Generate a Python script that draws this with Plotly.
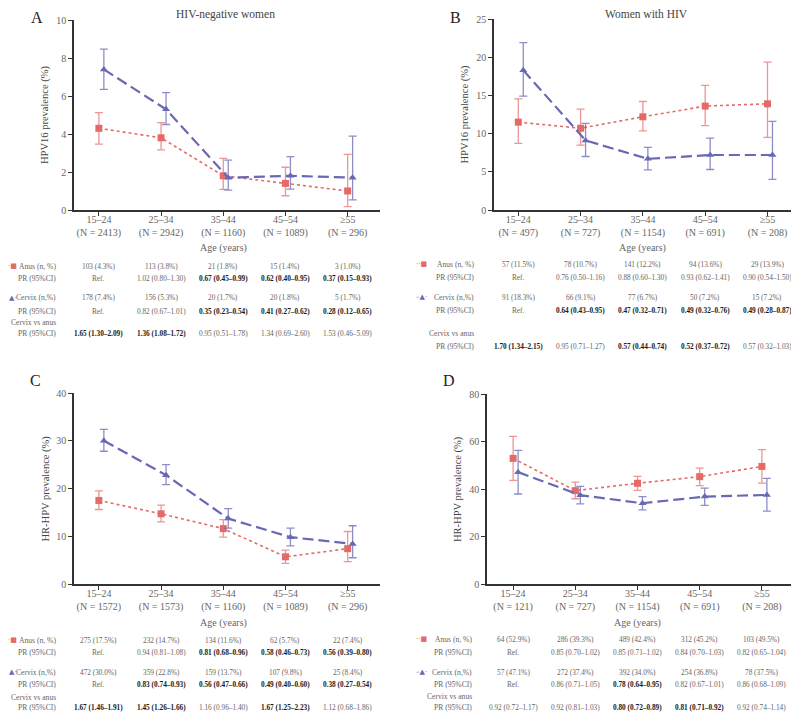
import numpy as np
import plotly.graph_objects as go

# the page body keeps its default 8px margin, so the figure is drawn 8px smaller
# and every layout position below is given in window pixels
OFF = 8
W, H = 799 - OFF, 712 - OFF

age_groups = ["15–24", "25–34", "35–44", "45–54", "≥55"]

# panel A: HPV16, HIV-negative women
a_n = [2413, 2942, 1160, 1089, 296]
a_anus = [4.3, 3.8, 1.8, 1.4, 1.0]
a_anus_hi = [5.12, 4.6, 2.72, 2.25, 2.93]
a_anus_lo = [3.47, 3.16, 1.09, 0.75, 0.18]
a_cerv = [7.4, 5.3, 1.7, 1.8, 1.7]
a_cerv_hi = [8.47, 6.18, 2.63, 2.81, 3.89]
a_cerv_lo = [6.35, 4.5, 1.05, 1.1, 0.53]
a_anus_txt = ["103 (4.3%)", "113 (3.8%)", "21 (1.8%)", "15 (1.4%)", "3 (1.0%)"]
a_anus_pr = ["Ref.", "1.02 (0.80–1.30)", "0.67 (0.45–0.99)", "0.62 (0.40–0.95)", "0.37 (0.15–0.93)"]
a_anus_pr_bold = [2, 3, 4]
a_cerv_txt = ["178 (7.4%)", "156 (5.3%)", "20 (1.7%)", "20 (1.8%)", "5 (1.7%)"]
a_cerv_pr = ["Ref.", "0.82 (0.67–1.01)", "0.35 (0.23–0.54)", "0.41 (0.27–0.62)", "0.28 (0.12–0.65)"]
a_cerv_pr_bold = [2, 3, 4]
a_cva = ["1.65 (1.30–2.09)", "1.36 (1.08–1.72)", "0.95 (0.51–1.78)", "1.34 (0.69–2.60)", "1.53 (0.46–5.09)"]
a_cva_bold = [0, 1]

# panel B: HPV16, women with HIV
b_n = [497, 727, 1154, 691, 208]
b_anus = [11.5, 10.7, 12.2, 13.6, 13.9]
b_anus_hi = [14.55, 13.2, 14.2, 16.3, 19.35]
b_anus_lo = [8.73, 8.5, 10.35, 11.05, 9.5]
b_cerv = [18.3, 9.1, 6.7, 7.2, 7.2]
b_cerv_hi = [21.9, 11.35, 8.2, 9.4, 11.6]
b_cerv_lo = [14.9, 7.0, 5.25, 5.3, 4.0]
b_anus_txt = ["57 (11.5%)", "78 (10.7%)", "141 (12.2%)", "94 (13.6%)", "29 (13.9%)"]
b_anus_pr = ["Ref.", "0.76 (0.50–1.16)", "0.88 (0.60–1.30)", "0.93 (0.62–1.41)", "0.90 (0.54–1.50)"]
b_anus_pr_bold = []
b_cerv_txt = ["91 (18.3%)", "66 (9.1%)", "77 (6.7%)", "50 (7.2%)", "15 (7.2%)"]
b_cerv_pr = ["Ref.", "0.64 (0.43–0.95)", "0.47 (0.32–0.71)", "0.49 (0.32–0.76)", "0.49 (0.28–0.87)"]
b_cerv_pr_bold = [1, 2, 3, 4]
b_cva = ["1.70 (1.34–2.15)", "0.95 (0.71–1.27)", "0.57 (0.44–0.74)", "0.52 (0.37–0.72)", "0.57 (0.32–1.03)"]
b_cva_bold = [0, 2, 3]

# panel C: HR-HPV, HIV-negative women
c_n = [1572, 1573, 1160, 1089, 296]
c_anus = [17.5, 14.7, 11.6, 5.7, 7.4]
c_anus_hi = [19.5, 16.5, 13.5, 7.1, 11.0]
c_anus_lo = [15.6, 13.0, 9.8, 4.3, 4.7]
c_cerv = [30.0, 22.8, 13.7, 9.8, 8.4]
c_cerv_hi = [32.4, 25.0, 15.8, 11.7, 12.2]
c_cerv_lo = [27.8, 20.8, 11.7, 8.0, 5.5]
c_anus_txt = ["275 (17.5%)", "232 (14.7%)", "134 (11.6%)", "62 (5.7%)", "22 (7.4%)"]
c_anus_pr = ["Ref.", "0.94 (0.81–1.08)", "0.81 (0.68–0.96)", "0.58 (0.46–0.73)", "0.56 (0.39–0.80)"]
c_anus_pr_bold = [2, 3, 4]
c_cerv_txt = ["472 (30.0%)", "359 (22.8%)", "159 (13.7%)", "107 (9.8%)", "25 (8.4%)"]
c_cerv_pr = ["Ref.", "0.83 (0.74–0.93)", "0.56 (0.47–0.66)", "0.49 (0.40–0.60)", "0.38 (0.27–0.54)"]
c_cerv_pr_bold = [1, 2, 3, 4]
c_cva = ["1.67 (1.46–1.91)", "1.45 (1.26–1.66)", "1.16 (0.96–1.40)", "1.67 (1.25–2.23)", "1.12 (0.68–1.86)"]
c_cva_bold = [0, 1, 3]

# panel D: HR-HPV, women with HIV
d_n = [121, 727, 1154, 691, 208]
d_anus = [52.9, 39.3, 42.4, 45.2, 49.5]
d_anus_hi = [62.2, 42.9, 45.3, 48.8, 56.6]
d_anus_lo = [43.6, 35.9, 39.4, 41.4, 42.5]
d_cerv = [47.1, 37.4, 34.0, 36.8, 37.5]
d_cerv_hi = [56.3, 41.1, 36.8, 40.4, 44.5]
d_cerv_lo = [37.9, 33.7, 31.2, 33.1, 30.7]
d_anus_txt = ["64 (52.9%)", "286 (39.3%)", "489 (42.4%)", "312 (45.2%)", "103 (49.5%)"]
d_anus_pr = ["Ref.", "0.85 (0.70–1.02)", "0.85 (0.71–1.02)", "0.84 (0.70–1.03)", "0.82 (0.65–1.04)"]
d_anus_pr_bold = []
d_cerv_txt = ["57 (47.1%)", "272 (37.4%)", "392 (34.0%)", "254 (36.8%)", "78 (37.5%)"]
d_cerv_pr = ["Ref.", "0.86 (0.71–1.05)", "0.78 (0.64–0.95)", "0.82 (0.67–1.01)", "0.86 (0.68–1.09)"]
d_cerv_pr_bold = [2]
d_cva = ["0.92 (0.72–1.17)", "0.92 (0.81–1.03)", "0.80 (0.72–0.89)", "0.81 (0.71–0.92)", "0.92 (0.74–1.14)"]
d_cva_bold = [2, 3]

RED = "#e46a68"
RED_EB = "rgba(228,106,104,0.7)"
BLUE = "#6868b4"
BLUE_EB = "rgba(104,104,180,0.75)"
TXT = "#666666"
DARK = "#1a1a1a"
FONT = "Liberation Serif"
TABLE_SIZE = 7.3


def px_x(v):
    return (v - OFF) / W


def px_y(v):
    return 1 - (v - OFF) / H


def note(text, x, y, xref="paper", xanchor="center", size=TABLE_SIZE, color=TXT, family=FONT, angle=0):
    return dict(text=text, x=x, y=y, xref=xref, yref="paper", xanchor=xanchor, yanchor="middle",
                showarrow=False, textangle=angle, font=dict(family=family, size=size, color=color))


panels = [
    dict(letter="A", title="HIV-negative women", ytitle="HPV16 prevalence (%)",
         n=a_n, anus=a_anus, anus_hi=a_anus_hi, anus_lo=a_anus_lo,
         cerv=a_cerv, cerv_hi=a_cerv_hi, cerv_lo=a_cerv_lo,
         rows=[(a_anus_txt, []), (a_anus_pr, a_anus_pr_bold), (a_cerv_txt, []),
               (a_cerv_pr, a_cerv_pr_bold), (a_cva, a_cva_bold)],
         xdom=(74, 380), ydom=(20, 210), yrange=(0, 10), dy=2, xr=(-0.40, 4.52),
         lab_x=58, row_y=[266, 278, 298, 311, 322, 333], age_y=248,
         letter_xy=(37, 17), title_xy=(226, 14), ytitle_x=45),
    dict(letter="B", title="Women with HIV", ytitle="HPV16 prevalence (%)",
         n=b_n, anus=b_anus, anus_hi=b_anus_hi, anus_lo=b_anus_lo,
         cerv=b_cerv, cerv_hi=b_cerv_hi, cerv_lo=b_cerv_lo,
         rows=[(b_anus_txt, []), (b_anus_pr, b_anus_pr_bold), (b_cerv_txt, []),
               (b_cerv_pr, b_cerv_pr_bold), (b_cva, b_cva_bold)],
         xdom=(494, 798), ydom=(19, 210), yrange=(0, 25), dy=5, xr=(-0.39, 4.49),
         lab_x=476, row_y=[264, 277, 297, 310, 333, 346], age_y=248,
         letter_xy=(455, 17), title_xy=(646, 14), ytitle_x=465),
    dict(letter="C", title="", ytitle="HR-HPV prevalence (%)",
         n=c_n, anus=c_anus, anus_hi=c_anus_hi, anus_lo=c_anus_lo,
         cerv=c_cerv, cerv_hi=c_cerv_hi, cerv_lo=c_cerv_lo,
         rows=[(c_anus_txt, []), (c_anus_pr, c_anus_pr_bold), (c_cerv_txt, []),
               (c_cerv_pr, c_cerv_pr_bold), (c_cva, c_cva_bold)],
         xdom=(74, 380), ydom=(393, 584), yrange=(0, 40), dy=10, xr=(-0.40, 4.52),
         lab_x=58, row_y=[640, 652, 672, 684, 697, 707], age_y=623,
         letter_xy=(35, 380), title_xy=None, ytitle_x=45),
    dict(letter="D", title="", ytitle="HR-HPV prevalence (%)",
         n=d_n, anus=d_anus, anus_hi=d_anus_hi, anus_lo=d_anus_lo,
         cerv=d_cerv, cerv_hi=d_cerv_hi, cerv_lo=d_cerv_lo,
         rows=[(d_anus_txt, []), (d_anus_pr, d_anus_pr_bold), (d_cerv_txt, []),
               (d_cerv_pr, d_cerv_pr_bold), (d_cva, d_cva_bold)],
         xdom=(487, 793), ydom=(394, 584), yrange=(0, 80), dy=20, xr=(-0.42, 4.50),
         lab_x=474, row_y=[639, 652, 672, 684, 696, 707], age_y=623,
         letter_xy=(449, 380), title_xy=None, ytitle_x=458),
]

fig = go.Figure()
annotations = []
layout = {}
pos = np.arange(len(age_groups))

for k, p in enumerate(panels):
    sfx = "" if k == 0 else str(k + 1)
    xa, ya = "x" + sfx, "y" + sfx

    anus = np.array(p["anus"])
    cerv = np.array(p["cerv"])
    fig.add_trace(go.Scatter(
        x=pos, y=anus, xaxis=xa, yaxis=ya, mode="lines+markers", showlegend=False,
        line=dict(color=RED, width=1.6, dash="dot"),
        marker=dict(symbol="square", size=7, color=RED),
        error_y=dict(type="data", symmetric=False,
                     array=np.array(p["anus_hi"]) - anus,
                     arrayminus=anus - np.array(p["anus_lo"]),
                     color=RED_EB, thickness=1.3, width=4)))
    fig.add_trace(go.Scatter(
        x=pos + 0.08, y=cerv, xaxis=xa, yaxis=ya, mode="lines+markers", showlegend=False,
        line=dict(color=BLUE, width=2.2, dash="11px,5px"),
        marker=dict(symbol="triangle-up", size=7, color=BLUE),
        error_y=dict(type="data", symmetric=False,
                     array=np.array(p["cerv_hi"]) - cerv,
                     arrayminus=cerv - np.array(p["cerv_lo"]),
                     color=BLUE_EB, thickness=1.3, width=4)))

    x0, x1 = p["xdom"]
    y0, y1 = p["ydom"]
    layout["xaxis" + sfx] = dict(
        domain=[px_x(x0), px_x(x1)], range=list(p["xr"]), anchor=ya, automargin=False,
        tickvals=list(pos),
        ticktext=[f"{g}<br>(N = {n})" for g, n in zip(age_groups, p["n"])],
        showline=True, linecolor="#333333", linewidth=1.5,
        ticks="outside", ticklen=4, tickcolor="#333333", tickwidth=1,
        ticklabelstandoff=-5,
        tickfont=dict(family=FONT, size=10, color=TXT),
        showgrid=False, zeroline=False, fixedrange=True)
    layout["yaxis" + sfx] = dict(
        domain=[px_y(y1), px_y(y0)], range=list(p["yrange"]), anchor=xa, automargin=False,
        dtick=p["dy"], showline=True, linecolor="#333333", linewidth=1.5,
        ticks="outside", ticklen=4, tickcolor="#333333", tickwidth=1,
        tickfont=dict(family=FONT, size=10, color=TXT),
        showgrid=False, zeroline=False, fixedrange=True)

    # panel letter, title, y-axis title
    lx, ly = p["letter_xy"]
    annotations.append(note(p["letter"], px_x(lx), px_y(ly), size=16, color="#222222"))
    if p["title_xy"]:
        tx, ty = p["title_xy"]
        annotations.append(note(p["title"], px_x(tx), px_y(ty), size=11.5, color="#444444"))
    annotations.append(note(p["ytitle"], px_x(p["ytitle_x"]), px_y((y0 + y1) / 2),
                            size=10.5, color="#444444", angle=-90))

    # table under the panel
    annotations.append(note("Age (years)", 2, px_y(p["age_y"]), xref=xa, size=10))
    ry = p["row_y"]
    labels = [("Anus (n, %)", ry[0]), ("PR (95%CI)", ry[1]), ("Cervix (n,%)", ry[2]),
              ("PR (95%CI)", ry[3]), ("Cervix vs anus", ry[4]), ("PR (95%CI)", ry[5])]
    for t, yy in labels:
        annotations.append(note(t, px_x(p["lab_x"]), px_y(yy), xanchor="right", size=7.6))
    row_pos = [ry[0], ry[1], ry[2], ry[3], ry[5]]
    for (vals, bold), yy in zip(p["rows"], row_pos):
        for i, v in enumerate(vals):
            b = i in bold
            annotations.append(note(f"<b>{v}</b>" if b else v, i, px_y(yy), xref=xa,
                                    color=DARK if b else TXT))

    # legend keys in front of the row labels
    left = p["lab_x"] < 100
    kx = 19 if left else 429
    annotations.append(note("·■" if left else "··■", px_x(kx), px_y(ry[0]), xanchor="right",
                            size=7, color=RED, family="DejaVu Sans"))
    annotations.append(note("▲·" if left else "–▲·", px_x(kx), px_y(ry[2]), xanchor="right",
                            size=7, color=BLUE, family="DejaVu Sans"))

fig.update_layout(
    width=W, height=H, margin=dict(l=0, r=0, t=0, b=0, autoexpand=False),
    paper_bgcolor="white", plot_bgcolor="white",
    font=dict(family=FONT, color=TXT),
    annotations=annotations, **layout)

fig.write_html("out.html")
